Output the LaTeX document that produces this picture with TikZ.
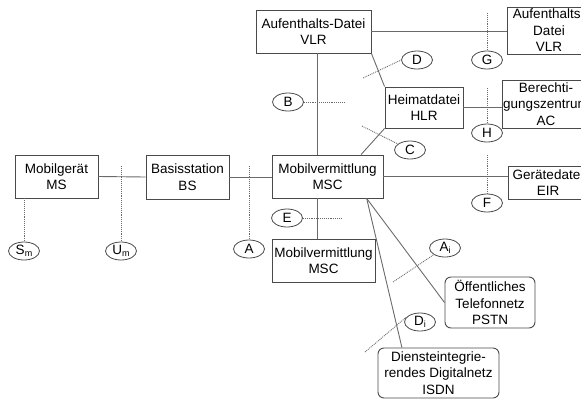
\documentclass[tikz,border=0pt]{standalone}
\usepackage{fontspec}
\setmainfont{Liberation Sans}
\usetikzlibrary{shapes.geometric,calc}
\definecolor{boxc}{HTML}{4A4A4A}
\definecolor{linec}{HTML}{6A6A6A}
\newcommand{\lowsub}[1]{\raisebox{-0.35ex}{\fontsize{9}{9}\selectfont #1}}
\begin{document}
\begin{tikzpicture}[x=1pt,y=-1pt,
  box/.style={draw=boxc, line width=0.9pt, align=center, inner sep=0pt, text=black, font=\fontsize{13.5}{16.5}\selectfont},
  rbox/.style={box, rounded corners=6pt},
  lab/.style={draw=boxc, ellipse, line width=0.8pt, minimum width=31pt, minimum height=18pt, inner sep=0pt, font=\fontsize{13.5}{14}\selectfont},
  conn/.style={draw=linec, line width=0.9pt},
  dotl/.style={draw=linec, line width=0.9pt, densely dotted}]
\useasboundingbox (0,0) rectangle (581,400);
% boxes
\node[box, minimum width=83pt, minimum height=43pt] (MS) at (56.5,176.5) {Mobilgerät\\MS};
\node[box, minimum width=83pt, minimum height=44pt] (BS) at (187.5,177) {Basisstation\\BS};
\node[box, minimum width=115pt, minimum height=43pt] (VLR) at (313.5,31.5) {Aufenthalts-Datei\\VLR};
\node[box, minimum width=84pt, minimum height=47pt] (VLR2) at (549,30.5) {Aufenthalts-\\Datei\\VLR};
\node[box, minimum width=78pt, minimum height=41pt] (HLR) at (424,107.5) {Heimatdatei\\HLR};
\node[box, minimum width=88pt, minimum height=48pt] (AC) at (546,104) {Berechti-\\gungszentrum\\AC};
\node[box, minimum width=111pt, minimum height=43pt] (MSC) at (327.5,176.5) {Mobilvermittlung\\MSC};
\node[box, minimum width=80pt, minimum height=33pt] (EIR) at (548,182.5) {Gerätedatei\\EIR};
\node[box, minimum width=103pt, minimum height=43pt] (MSC2) at (323.5,260.5) {Mobilvermittlung\\MSC};
\node[rbox, minimum width=90pt, minimum height=51pt] (PSTN) at (490,302.5) {Öffentliches\\Telefonnetz\\PSTN};
\node[rbox, minimum width=121pt, minimum height=50pt] (ISDN) at (438.5,373) {Diensteintegrie-\\rendes Digitalnetz\\ISDN};
% interface labels
\node[lab] (Sm) at (24,251) {S\lowsub{m}};
\node[lab] (Um) at (121,251) {U\lowsub{m}};
\node[lab] (A) at (249,249) {A};
\node[lab] (B) at (288,102) {B};
\node[lab] (C) at (410,150) {C};
\node[lab] (D) at (417,60) {D};
\node[lab] (E) at (287,218) {E};
\node[lab] (G) at (487,60) {G};
\node[lab] (H) at (487,133) {H};
\node[lab] (F) at (487,203) {F};
\node[lab] (Ai) at (445,248) {A\lowsub{i}};
\node[lab] (Di) at (420,322) {D\lowsub{i}};
% free ends
\coordinate (bx) at (317,0);
\coordinate (umtop) at (121,166);
\coordinate (atop) at (249,166);
\coordinate (bend) at (345,102);
\coordinate (cend) at (362,126);
\coordinate (dend) at (363,78);
\coordinate (eend) at (342,218);
\coordinate (gtop) at (487,13);
\coordinate (htop) at (487,88);
\coordinate (ftop) at (487,155);
\coordinate (aiend) at (393,282);
\coordinate (diend) at (365,352);
\coordinate (mscb) at ($(MSC.south west)!0.85!(MSC.south east)$);
% connectors
\draw[conn] (MS.east) -- (BS.west);
\draw[conn] (BS.east) -- (MSC.west |- BS.east);
\draw[conn] (VLR.east) -- (VLR2.west |- VLR.east);
\draw[conn] (VLR.south -| bx) -- (MSC.north -| bx);
\draw[conn] (MSC.south -| bx) -- (MSC2.north -| bx);
\draw[conn] (VLR.south east) -- (HLR.north west);
\draw[conn] (HLR.south west) -- ($(MSC.north west)!0.8!(MSC.north east)$);
\draw[conn] (HLR.east) -- (AC.west |- HLR.east);
\draw[conn] (MSC.east) -- (EIR.west |- MSC.east);
\draw[conn] (mscb) -- (PSTN.west);
\draw[conn] (mscb) -- ($(ISDN.north west)!0.2!(ISDN.north east)$);
% dotted interface lines
\draw[dotl] (Sm.north |- MS.south) -- (Sm.north);
\draw[dotl] (umtop) -- (Um.north);
\draw[dotl] (atop) -- (A.north);
\draw[dotl] (B.east) -- (bend);
\draw[dotl] (cend) -- (C);
\draw[dotl] (dend) -- (D.west);
\draw[dotl] (E.east) -- (eend);
\draw[dotl] (gtop) -- (G.north);
\draw[dotl] (htop) -- (H.north);
\draw[dotl] (ftop) -- (F.north);
\draw[dotl] (aiend) -- (Ai.south west);
\draw[dotl] (diend) -- (Di.160);
\end{tikzpicture}
\end{document}
